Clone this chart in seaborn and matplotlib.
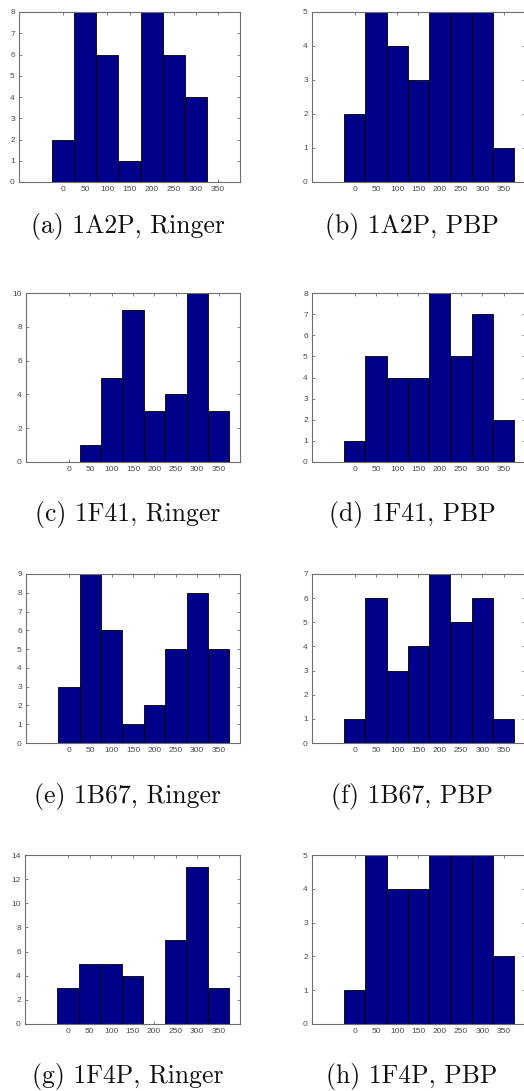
import matplotlib
matplotlib.use("Agg")
import matplotlib.pyplot as plt
import numpy as np
import pandas as pd
import seaborn as sns

# Bin centres (degrees) shared by every histogram
bin_centers = [0, 50, 100, 150, 200, 250, 300, 350]

# Counts per bin for each protein / solvent model
counts_1a2p_ringer = [2, 8, 6, 1, 8, 6, 4, 0]
counts_1a2p_pbp = [2, 5, 4, 3, 5, 5, 5, 1]
counts_1f41_ringer = [0, 1, 5, 9, 3, 4, 10, 3]
counts_1f41_pbp = [1, 5, 4, 4, 8, 5, 7, 2]
counts_1b67_ringer = [3, 9, 6, 1, 2, 5, 8, 5]
counts_1b67_pbp = [1, 6, 3, 4, 7, 5, 6, 1]
counts_1f4p_ringer = [3, 5, 5, 4, 0, 7, 13, 3]
counts_1f4p_pbp = [1, 5, 4, 4, 5, 5, 5, 2]

captions = [
    "(a) 1A2P, Ringer", "(b) 1A2P, PBP",
    "(c) 1F41, Ringer", "(d) 1F41, PBP",
    "(e) 1B67, Ringer", "(f) 1B67, PBP",
    "(g) 1F4P, Ringer", "(h) 1F4P, PBP",
]
series = [
    counts_1a2p_ringer, counts_1a2p_pbp,
    counts_1f41_ringer, counts_1f41_pbp,
    counts_1b67_ringer, counts_1b67_pbp,
    counts_1f4p_ringer, counts_1f4p_pbp,
]
y_max = [8, 5, 10, 8, 9, 7, 14, 5]
y_step = [1, 1, 2, 1, 1, 1, 2, 1]
x_ticks = [0, 50, 100, 150, 200, 250, 300, 350]

W, H = 524, 1091
sns.set_theme(style="white")
plt.rcParams["font.family"] = ["Liberation Sans", "DejaVu Sans"]

fig = plt.figure(figsize=(W / 100, H / 100), dpi=100)

# axes boxes in pixels: left, top, right, bottom
boxes = [
    (19, 12, 240, 182), (312, 12, 525, 182),
    (26, 293, 240, 462), (312, 293, 525, 462),
    (26, 574, 240, 743), (312, 574, 525, 743),
    (25, 855, 240, 1024), (312, 855, 525, 1024),
]
caption_pos = [
    (128, 227), (412, 227),
    (128, 515), (412, 515),
    (128, 796), (412, 796),
    (128, 1077), (412, 1077),
]

bar_color = "#000088"
spine_color = "#6e6e6e"
label_color = "#4a4a4a"

for counts, box, ymax, ystep, cap, cpos in zip(series, boxes, y_max, y_step, captions, caption_pos):
    l, t, r, b = box
    ax = fig.add_axes([l / W, 1 - b / H, (r - l) / W, (b - t) / H])
    df = pd.DataFrame({"angle": bin_centers, "count": counts})
    df = df[df["count"] > 0]
    sns.barplot(data=df, x="angle", y="count", native_scale=True, width=1.0,
                color=bar_color, saturation=1, edgecolor="black", linewidth=0.6, ax=ax)
    ax.set_xlim(-100, 400)
    ax.set_ylim(0, ymax)
    ax.set_xticks(x_ticks)
    ax.set_yticks(np.arange(0, ymax + 0.5, ystep))
    ax.set_xlabel("")
    ax.set_ylabel("")
    ax.tick_params(direction="in", length=2.5, width=0.6, color=spine_color,
                   labelsize=6, labelcolor=label_color, top=True, right=True,
                   bottom=True, left=True, pad=3)
    for sp in ax.spines.values():
        sp.set_color(spine_color)
        sp.set_linewidth(0.8)
    fig.text(cpos[0] / W, 1 - cpos[1] / H, cap, ha="center", va="center",
             fontsize=18.5, family="cmr10", color="#111111")

fig.savefig("out.png", dpi=100)
